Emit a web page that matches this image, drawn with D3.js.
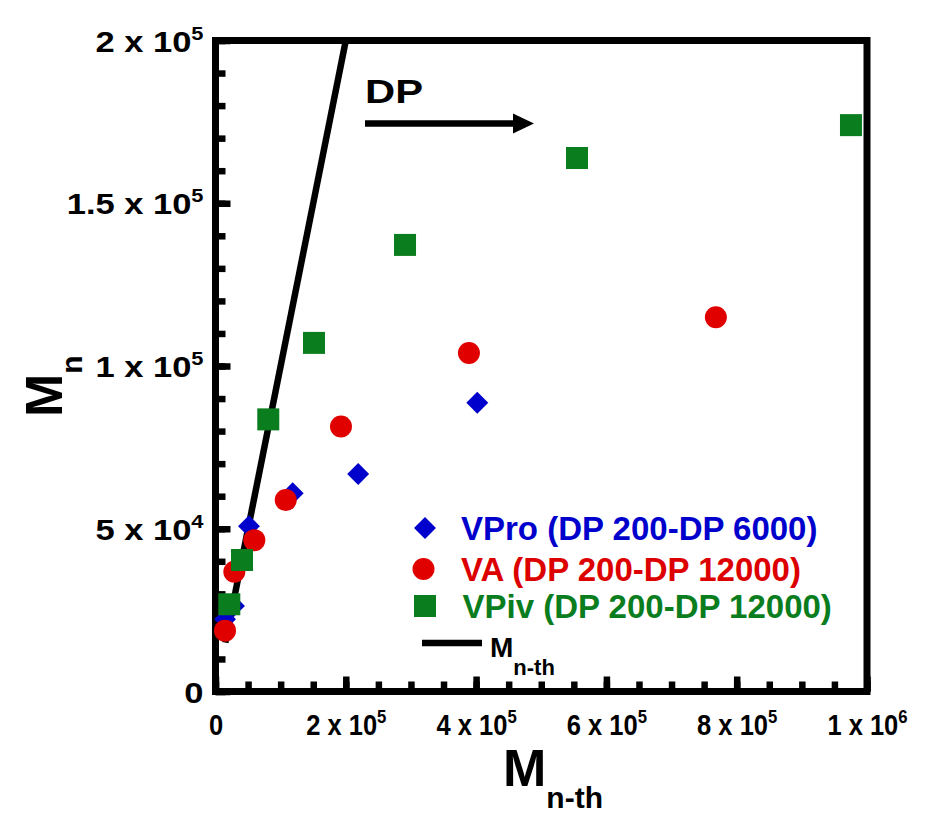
<!DOCTYPE html>
<html>
<head>
<meta charset="utf-8">
<script src="https://cdn.jsdelivr.net/npm/d3@7"></script>
<style>
  html, body { margin: 0; padding: 0; background: #ffffff; }
  svg { display: block; }
  text { font-family: "Liberation Sans", Arial, Helvetica, sans-serif; font-weight: bold; }
</style>
</head>
<body>
<svg id="chart" width="927" height="816"></svg>
<script>
// ---------------- data ----------------
const vproX = [14600, 28400, 51400, 118500, 219000, 401800];
const vproY = [22200, 26300, 50800, 60900, 66800, 88700];

const vaX = [14600, 28900, 59600, 107800, 192600, 389000, 768000];
const vaY = [18700, 36800, 46500, 58800, 81400, 104000, 115000];

const vpivX = [21200, 40700, 81000, 151200, 290900, 554900, 975400];
const vpivY = [26800, 40400, 83600, 107100, 137200, 163900, 174000];

const theoryX = [15000, 220000];   // Mn-th line: Mn = Mn-th
const theoryY = [15000, 220000];

const xTickValues = [0, 200000, 400000, 600000, 800000, 1000000];
const xTickLabels = ["0", "2 x 10^5", "4 x 10^5", "6 x 10^5", "8 x 10^5", "1 x 10^6"];
const yTickValues = [0, 50000, 100000, 150000, 200000];
const yTickLabels = ["0", "5 x 10^4", "1 x 10^5", "1.5 x 10^5", "2 x 10^5"];

const seriesNames = ["VPro (DP 200-DP 6000)", "VA (DP 200-DP 12000)", "VPiv (DP 200-DP 12000)"];
const seriesColors = ["#0000cc", "#e00000", "#0a7d1e"];
const textColors = ["#0000cc", "#dd0000", "#0a7d1e"];

// ---------------- layout ----------------
const svg = d3.select("#chart");
svg.append("rect").attr("width", 927).attr("height", 816).attr("fill", "#fff");

const L = 215.5, R = 867, T = 40.5, B = 691.5;
const x = d3.scaleLinear().domain([0, 1000000]).range([L, R]);
const y = d3.scaleLinear().domain([0, 200000]).range([B, T]);

function labelTspans(sel, lab, supSize, rise) {
  const parts = lab.split("^");
  sel.text(null);
  sel.append("tspan").text(parts[0]);
  if (parts.length > 1) {
    sel.append("tspan").attr("dy", -rise).attr("font-size", supSize).text(parts[1]);
  }
}

// minor ticks
const xMinor = d3.range(0, 1000001, 50000);
const yMinor = d3.range(0, 200001, 10000);

const gxMinor = svg.append("g").attr("transform", `translate(0,${B})`)
  .call(d3.axisBottom(x).tickValues(xMinor).tickSizeInner(-10).tickSizeOuter(0).tickFormat(""));
const gyMinor = svg.append("g").attr("transform", `translate(${L},0)`)
  .call(d3.axisLeft(y).tickValues(yMinor).tickSizeInner(-10).tickSizeOuter(0).tickFormat(""));

// major ticks + labels
const gx = svg.append("g").attr("transform", `translate(0,${B})`)
  .call(d3.axisBottom(x).tickValues(xTickValues).tickSizeInner(-15).tickSizeOuter(0)
    .tickFormat((d, i) => xTickLabels[i]));
const gy = svg.append("g").attr("transform", `translate(${L},0)`)
  .call(d3.axisLeft(y).tickValues(yTickValues).tickSizeInner(-15).tickSizeOuter(0)
    .tickFormat((d, i) => yTickLabels[i]));

[gxMinor, gyMinor, gx, gy].forEach(g => {
  g.select(".domain").remove();
  g.selectAll(".tick line").attr("stroke", "#000").attr("stroke-width", 6.5);
});

const xsx = 0.88, ysx = 1.15;
gx.selectAll(".tick text")
  .attr("font-size", 29).attr("fill", "#000")
  .attr("dy", null).attr("y", 44).attr("x", 0)
  .attr("transform", `scale(${xsx},1)`)
  .each(function (d, i) { labelTspans(d3.select(this), xTickLabels[i], 19, 12); });

gy.selectAll(".tick text")
  .attr("font-size", 30).attr("fill", "#000")
  .attr("dy", null).attr("y", 10.5).attr("x", -12 / ysx)
  .attr("transform", `scale(${ysx},1)`)
  .each(function (d, i) { labelTspans(d3.select(this), yTickLabels[i], 19, 12); });

// frame
svg.append("rect").attr("x", L).attr("y", T).attr("width", R - L).attr("height", B - T)
  .attr("fill", "none").attr("stroke", "#000").attr("stroke-width", 7);

// clip for data
svg.append("clipPath").attr("id", "plotclip").append("rect")
  .attr("x", L).attr("y", T).attr("width", R - L).attr("height", B - T);

// theory line
const lineGen = d3.line().x(d => x(d[0])).y(d => y(d[1]));
svg.append("path")
  .attr("clip-path", "url(#plotclip)")
  .attr("d", lineGen(theoryX.map((v, i) => [v, theoryY[i]])))
  .attr("fill", "none").attr("stroke", "#000").attr("stroke-width", 6.5);

// markers
const diamond = d3.symbol().type(d3.symbolSquare).size(15.5 * 15.5);
function drawDiamond(g, cx, cy, color) {
  g.append("path").attr("d", diamond())
    .attr("transform", `translate(${cx},${cy}) rotate(45)`).attr("fill", color);
}
function drawCircle(g, cx, cy, color) {
  g.append("circle").attr("cx", cx).attr("cy", cy).attr("r", 11).attr("fill", color);
}
function drawSquare(g, cx, cy, color) {
  g.append("rect").attr("x", cx - 11).attr("y", cy - 11).attr("width", 22).attr("height", 22).attr("fill", color);
}

const gPts = svg.append("g");
vproX.forEach((v, i) => drawDiamond(gPts, x(v), y(vproY[i]), seriesColors[0]));
vaX.forEach((v, i) => drawCircle(gPts, x(v), y(vaY[i]), seriesColors[1]));
vpivX.forEach((v, i) => drawSquare(gPts, x(v), y(vpivY[i]), seriesColors[2]));

// DP arrow annotation
const arrowY = 123.5;
svg.append("text").attr("x", 365).attr("y", 102.5).attr("font-size", 34)
  .attr("textLength", 58).attr("lengthAdjust", "spacingAndGlyphs").attr("fill", "#000").text("DP");
svg.append("line").attr("x1", 365).attr("x2", 516).attr("y1", arrowY).attr("y2", arrowY)
  .attr("stroke", "#000").attr("stroke-width", 6.5);
svg.append("path").attr("d", `M513,${arrowY - 10} L534,${arrowY} L513,${arrowY + 10} Z`).attr("fill", "#000");

// legend
const legX = 425, legTextX = 461;
const legRows = [528, 569, 606];
const legBase = [540, 581, 618];
const lg = svg.append("g");
drawDiamond(lg, legX, legRows[0], seriesColors[0]);
drawCircle(lg, legX - 1.5, legRows[1], seriesColors[1]);
drawSquare(lg, legX, legRows[2], seriesColors[2]);
seriesNames.forEach((s, i) => {
  lg.append("text").attr("x", legTextX + (i === 2 ? 1.5 : 0)).attr("y", legBase[i])
    .attr("font-size", 33).attr("fill", textColors[i]).text(s);
});
lg.append("line").attr("x1", 422).attr("x2", 482).attr("y1", 643).attr("y2", 643)
  .attr("stroke", "#000").attr("stroke-width", 6.5);
const lt = lg.append("text").attr("x", 490).attr("y", 657).attr("font-size", 28).attr("fill", "#000");
lt.append("tspan").text("M");
lt.append("tspan").attr("dy", 18).attr("font-size", 22).text("n-th");

// axis titles
const xt = svg.append("text").attr("x", 503).attr("y", 786).attr("font-size", 52).attr("fill", "#000");
xt.append("tspan").text("M");
xt.append("tspan").attr("dy", 22).attr("font-size", 30).text("n-th");

const yt = svg.append("text").attr("transform", "translate(62,417) rotate(-90)")
  .attr("font-size", 52).attr("fill", "#000");
yt.append("tspan").text("M");
yt.append("tspan").attr("dy", 20).attr("font-size", 30).text("n");
</script>
</body>
</html>
